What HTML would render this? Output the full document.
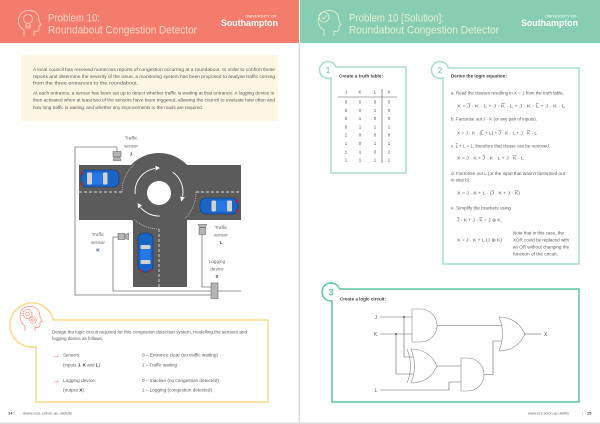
<!DOCTYPE html>
<html><head><meta charset="utf-8"><style>
html,body{margin:0;padding:0;background:#fff;}
svg{display:block;}
text{font-family:"Liberation Sans",sans-serif;}
.b{font-size:4.4px;fill:#5a5a5a;}
.l{font-size:4.6px;fill:#666;}
.t{font-size:4.5px;fill:#555;}
.bold{font-weight:bold;fill:#3a3a3a;}
.ov{text-decoration:overline;}
</style></head><body>
<svg width="600" height="424" viewBox="0 0 600 424" xmlns="http://www.w3.org/2000/svg">
<rect width="600" height="424" fill="#fff"/>
<!-- headers -->
<rect x="0" y="0" width="299" height="43" fill="#F47C6C"/>
<rect x="300" y="0" width="300" height="43" fill="#86CDB4"/>
<!-- separators -->
<rect x="298.5" y="43" width="1.5" height="381" fill="#DDDDDD"/>
<rect x="0" y="422.5" width="600" height="1.5" fill="#DDDDDD"/>

<!-- left header icon -->
<g fill="none" stroke="#FCD6C6" stroke-width="0.8">
<path d="M24,36 V30 C18,27 17,20 20,15 C23,10 30,9 35,12 C38,14 39,18 39,21 L41,25 L39,26 V29 C39,31 37,32 34,31 V36"/>
<circle cx="28" cy="19" r="4.5"/>
<path d="M26,24 V28 H30 V24 M26,26 H30"/>
</g>
<text x="48" y="21.3" font-size="10.8" fill="#FCD8C9" textLength="52" lengthAdjust="spacingAndGlyphs">Problem 10:</text>
<text x="48" y="33.5" font-size="10.8" fill="#FCD8C9" textLength="149" lengthAdjust="spacingAndGlyphs">Roundabout Congestion Detector</text>
<text x="245" y="17.5" font-size="3.6" fill="#fff" textLength="32" lengthAdjust="spacingAndGlyphs">UNIVERSITY OF</text>
<text x="221" y="26" font-size="9" font-weight="bold" fill="#fff" textLength="57" lengthAdjust="spacingAndGlyphs">Southampton</text>

<!-- right header icon -->
<g fill="none" stroke="#E4F0CC" stroke-width="0.8">
<path d="M324,36 V30 C318,27 317,20 320,15 C323,10 330,9 335,12 C338,14 339,18 339,21 L341,25 L339,26 V29 C339,31 337,32 334,31 V36"/>
<circle cx="324" cy="17" r="5"/>
<path d="M321.5,17 L323.5,19 L327,15"/>
</g>
<text x="349" y="21.3" font-size="10.8" fill="#E6F1CE" textLength="95" lengthAdjust="spacingAndGlyphs">Problem 10 [Solution]:</text>
<text x="349" y="33.5" font-size="10.8" fill="#E6F1CE" textLength="150" lengthAdjust="spacingAndGlyphs">Roundabout Congestion Detector</text>
<text x="545" y="17.5" font-size="3.6" fill="#fff" textLength="32" lengthAdjust="spacingAndGlyphs">UNIVERSITY OF</text>
<text x="521" y="26" font-size="9" font-weight="bold" fill="#fff" textLength="57" lengthAdjust="spacingAndGlyphs">Southampton</text>

<!-- LEFT: intro box -->
<rect x="21" y="55" width="257" height="66" fill="#FEF6E2"/>
<text class="b" x="33" y="71" textLength="242" lengthAdjust="spacingAndGlyphs">A local council has received numerous reports of congestion occurring at a roundabout. In order to confirm these</text>
<text class="b" x="33" y="78" textLength="242" lengthAdjust="spacingAndGlyphs">reports and determine the severity of the issue, a monitoring system has been proposed to analyse traffic coming</text>
<text class="b" x="33" y="84.5" textLength="105" lengthAdjust="spacingAndGlyphs">from the three entrances to the roundabout.</text>
<text class="b" x="33" y="94.5" textLength="241" lengthAdjust="spacingAndGlyphs">At each entrance, a sensor has been set up to detect whether traffic is waiting at that entrance. A logging device is</text>
<text class="b" x="33" y="101.5" textLength="242" lengthAdjust="spacingAndGlyphs">then activated when at least two of the sensors have been triggered, allowing the council to evaluate how often and</text>
<text class="b" x="33" y="109" textLength="170" lengthAdjust="spacingAndGlyphs">how long traffic is waiting, and whether any improvements to the roads are required.</text>

<!-- roads -->
<g fill="#5B5B5B">
<rect x="79" y="165" width="162" height="55"/>
<rect x="133" y="219" width="54" height="68"/>
<circle cx="159" cy="192" r="39"/>
</g>
<circle cx="159" cy="193" r="12" fill="#fff"/>
<g fill="none" stroke="#fff" stroke-width="0.7" stroke-dasharray="3 2">
<path d="M79,192 H122"/>
<path d="M196,192 H241"/>
<path d="M159,229 V287"/>
</g>
<g fill="none" stroke="#ddd" stroke-width="0.6" stroke-dasharray="1 1">
<path d="M122,192 A37,37 0 0 1 134.2,164.5"/>
<path d="M196,192 A37,37 0 0 1 185.2,218.2"/>
<path d="M159,229 A37,37 0 0 1 134.2,219.5"/>
</g>
<!-- arrows -->
<g fill="none" stroke="#fff" stroke-width="0.9">
<path d="M135.1,194.1 A24,24 0 0 1 154.8,168.4"/>
<path d="M172.8,172.3 A24,24 0 0 1 182.6,196.2"/>
<path d="M159.8,216 A24,24 0 0 1 140.6,207.4"/>
</g>
<g fill="#fff">
<polygon points="160,168 155.5,165.8 155.5,170.5"/>
<polygon points="181.3,201.5 184.8,197.2 180.2,196.4"/>
<polygon points="137.5,203 138.2,208.4 142,205.2"/>
</g>

<!-- cars -->
<g transform="translate(81,170)">
<rect x="0" y="0" width="38" height="17" rx="6" fill="#1A64C6" stroke="#0B3A78" stroke-width="0.6"/>
<rect x="11" y="2.5" width="11" height="12" fill="#2479E6"/>
<rect x="6" y="2.5" width="5" height="12" rx="1" fill="#D2D2D2"/>
<rect x="22" y="2.5" width="4.5" height="12" rx="1" fill="#D2D2D2"/>
<rect x="0.4" y="1.5" width="1.8" height="3" fill="#C8202A"/>
<rect x="0.4" y="12.5" width="1.8" height="3" fill="#C8202A"/>
</g>
<g transform="translate(238,198) scale(-1,1)">
<rect x="0" y="0" width="38" height="16" rx="6" fill="#1A64C6" stroke="#0B3A78" stroke-width="0.6"/>
<rect x="11" y="2.5" width="11" height="11" fill="#2479E6"/>
<rect x="6" y="2.5" width="5" height="11" rx="1" fill="#D2D2D2"/>
<rect x="22" y="2.5" width="4.5" height="11" rx="1" fill="#D2D2D2"/>
<rect x="0.4" y="1.5" width="1.8" height="3" fill="#C8202A"/>
<rect x="0.4" y="11.5" width="1.8" height="3" fill="#C8202A"/>
</g>
<g transform="translate(138,272) rotate(-90)">
<rect x="0" y="0" width="39" height="15" rx="6" fill="#1A64C6" stroke="#0B3A78" stroke-width="0.6"/>
<rect x="12" y="2.5" width="11" height="10" fill="#2479E6"/>
<rect x="8" y="2.5" width="4" height="10" rx="1" fill="#D2D2D2"/>
<rect x="23" y="2.5" width="4" height="10" rx="1" fill="#D2D2D2"/>
<rect x="0.4" y="1.3" width="1.8" height="3" fill="#C8202A"/>
<rect x="0.4" y="10.7" width="1.8" height="3" fill="#C8202A"/>
</g>

<!-- wires -->
<g fill="none" stroke="#777" stroke-width="0.8">
<path d="M117,152 V147 H75 V295 H211"/>
<path d="M118,237 H113 V291 H211"/>
<path d="M202,235 V287 H211"/>
<path d="M218,291 H241"/>
</g>
<!-- sensors -->
<g fill="#B5B5B5" stroke="#555" stroke-width="0.5">
<rect x="113" y="151.5" width="8" height="5.5"/>
<polygon points="114.5,157 119.5,157 121,160.5 113,160.5"/>
<rect x="118" y="233.5" width="7" height="6"/>
<polygon points="125,235 128.5,233 128.5,240 125,238"/>
<polygon points="198,224.5 207,224.5 205,227.5 200,227.5"/>
<rect x="199" y="227.5" width="6.5" height="7"/>
<rect x="211" y="283" width="7" height="15.5"/>
</g>
<!-- labels -->
<g class="l" text-anchor="middle">
<text x="131" y="139.5">Traffic</text><text x="131" y="147.5">sensor</text>
<text x="98" y="236">Traffic</text><text x="98" y="244">sensor</text>
<text x="221" y="229">Traffic</text><text x="221" y="236.5">sensor</text>
<text x="217" y="263">Logging</text><text x="217" y="270.5">device</text>
</g>
<g font-size="4.6" font-weight="bold" fill="#1F3D6E" text-anchor="middle">
<text x="131" y="155.5">J</text>
<text x="98" y="251.5">K</text>
<text x="221" y="244">L</text>
<text x="217" y="278">X</text>
</g>

<!-- bottom-left task box -->
<path d="M53.4,320 H268 V402 H36 V346.6 A22,22 0 1 1 53.4,320 Z" fill="#fff" stroke="#FDD98A" stroke-width="1.5"/>
<g fill="none" stroke="#F28A7A" stroke-width="0.7">
<path d="M25,331 V326 C20,323 19,316 21,311 C24,306 31,305 36,308 C39,310 40,314 40,317 L42,321 L40,322 V325 C40,327 38,328 35,327 V331"/>
<circle cx="27.5" cy="314" r="4.5" stroke-dasharray="1.2 0.8" stroke-width="1.2"/>
<circle cx="27.5" cy="314" r="1.8"/>
<circle cx="33" cy="320" r="3.3" stroke-dasharray="1 0.8" stroke-width="1.1"/>
<circle cx="33" cy="320" r="1.3"/>
</g>
<text class="b" x="52" y="333.5" textLength="195" lengthAdjust="spacingAndGlyphs">Design the logic circuit required for this congestion detection system, modelling the sensors and</text>
<text class="b" x="52" y="340" textLength="51" lengthAdjust="spacingAndGlyphs">logging device as follows:</text>
<text x="52.5" y="357.5" font-size="7" fill="#F47C6C" stroke="#F47C6C" stroke-width="0.15">→</text>
<text x="52.5" y="383" font-size="7" fill="#F47C6C" stroke="#F47C6C" stroke-width="0.15">→</text>
<text class="b" x="63" y="356.5">Sensors:</text>
<text class="b" x="63" y="366.5" textLength="37" lengthAdjust="spacingAndGlyphs">(inputs <tspan font-weight="bold" fill="#333">J</tspan>, <tspan font-weight="bold" fill="#333">K</tspan> and <tspan font-weight="bold" fill="#333">L</tspan>)</text>
<text class="b" x="142" y="356.5" textLength="76" lengthAdjust="spacingAndGlyphs">0 – Entrance clear (no traffic waiting)</text>
<text class="b" x="142" y="366.5" textLength="35" lengthAdjust="spacingAndGlyphs">1 – Traffic waiting</text>
<text class="b" x="63" y="382" textLength="33" lengthAdjust="spacingAndGlyphs">Logging device:</text>
<text class="b" x="63" y="391.5" textLength="21" lengthAdjust="spacingAndGlyphs">(output <tspan font-weight="bold" fill="#333">X</tspan>)</text>
<text class="b" x="142" y="382" textLength="77" lengthAdjust="spacingAndGlyphs">0 – Inactive (no congestion detected)</text>
<text class="b" x="142" y="391.5" textLength="70" lengthAdjust="spacingAndGlyphs">1 – Logging (congestion detected)</text>

<!-- footers -->
<text x="8" y="414.5" font-size="4" fill="#444"><tspan font-weight="bold">14</tspan>   <tspan fill="#999">|</tspan>   </text>
<text x="23" y="414.5" font-size="4" fill="#666" textLength="49" lengthAdjust="spacingAndGlyphs">www.ecs.soton.ac.uk/kits</text>
<text x="528" y="414.5" font-size="4" fill="#666" textLength="41" lengthAdjust="spacingAndGlyphs">www.ecs.soton.ac.uk/kits</text>
<text x="582" y="414.5" font-size="4" fill="#999">|</text>
<text x="587" y="414.5" font-size="4" font-weight="bold" fill="#444">25</text>

<!-- RIGHT: box 1 -->
<path d="M336,67 H406 V173 H331 V77.95 A8.5,8.5 0 1 1 336,67 Z" fill="#fff" stroke="#A8DEC9" stroke-width="1.5"/>
<text x="328" y="73.3" font-size="9" font-weight="bold" fill="#9BD8C1" text-anchor="middle">1</text>
<text class="t bold" x="339" y="77.5" textLength="44" lengthAdjust="spacingAndGlyphs">Create a truth table:</text>
<g class="t" text-anchor="middle">
<text x="346" y="93.5">J</text><text x="360" y="93.5">K</text><text x="375" y="93.5">L</text><text x="389" y="93.5">X</text>
<text x="346" y="103.5">0</text><text x="360" y="103.5">0</text><text x="375" y="103.5">0</text><text x="389" y="103.5">0</text>
<text x="346" y="111.8">0</text><text x="360" y="111.8">0</text><text x="375" y="111.8">1</text><text x="389" y="111.8">0</text>
<text x="346" y="120.1">0</text><text x="360" y="120.1">1</text><text x="375" y="120.1">0</text><text x="389" y="120.1">0</text>
<text x="346" y="128.4">0</text><text x="360" y="128.4">1</text><text x="375" y="128.4">1</text><text x="389" y="128.4">1</text>
<text x="346" y="136.7">1</text><text x="360" y="136.7">0</text><text x="375" y="136.7">0</text><text x="389" y="136.7">0</text>
<text x="346" y="145">1</text><text x="360" y="145">0</text><text x="375" y="145">1</text><text x="389" y="145">1</text>
<text x="346" y="153.3">1</text><text x="360" y="153.3">1</text><text x="375" y="153.3">0</text><text x="389" y="153.3">1</text>
<text x="346" y="161.6">1</text><text x="360" y="161.6">1</text><text x="375" y="161.6">1</text><text x="389" y="161.6">1</text>
</g>
<path d="M338,97 H397 M382,89 V163" stroke="#555" stroke-width="0.6" fill="none"/>

<!-- box 2 -->
<path d="M448.26,68 H579 V264 H443 V77.95 A8.5,8.5 0 1 1 448.26,68 Z" fill="#fff" stroke="#A8DEC9" stroke-width="1.5"/>
<text x="440" y="73.3" font-size="9" font-weight="bold" fill="#9BD8C1" text-anchor="middle">2</text>
<text class="t bold" x="451" y="77.5" textLength="56" lengthAdjust="spacingAndGlyphs">Derive the logic equation:</text>
<text class="b" x="451" y="94.5" textLength="113" lengthAdjust="spacingAndGlyphs">a. Read the clauses resulting in X = 1 from the truth table.</text>
<text class="b" x="457" y="107.5" textLength="108" lengthAdjust="spacingAndGlyphs">X = <tspan class="ov">J</tspan> · K · L  +  J · <tspan class="ov">K</tspan> · L  +  J · K · <tspan class="ov">L</tspan>  +  J · K · L</text>
<text class="b" x="451" y="120.5" textLength="86" lengthAdjust="spacingAndGlyphs">b. Factorise out J · K (or any pair of inputs).</text>
<text class="b" x="457" y="134.5" textLength="80" lengthAdjust="spacingAndGlyphs">X = J · K · (<tspan class="ov">L</tspan> + L) + <tspan class="ov">J</tspan> · K · L + J · <tspan class="ov">K</tspan> · L</text>
<text class="b" x="451" y="147.5" textLength="99" lengthAdjust="spacingAndGlyphs">c. <tspan class="ov">L</tspan> + L = 1, therefore that clause can be removed.</text>
<text class="b" x="457" y="159.5" textLength="67" lengthAdjust="spacingAndGlyphs">X = J · K + <tspan class="ov">J</tspan> · K · L + J · <tspan class="ov">K</tspan> · L</text>
<text class="b" x="451" y="175" textLength="114" lengthAdjust="spacingAndGlyphs">d. Factorise out L (or the input that wasn't factorised out</text>
<text class="b" x="451" y="181.5">in step b).</text>
<text class="b" x="457" y="194.5" textLength="63" lengthAdjust="spacingAndGlyphs">X = J · K + L · (<tspan class="ov">J</tspan> · K + J · <tspan class="ov">K</tspan>)</text>
<text class="b" x="451" y="209.5" textLength="60" lengthAdjust="spacingAndGlyphs">e. Simplify the brackets using</text>
<text class="b" x="457" y="221.5" textLength="45" lengthAdjust="spacingAndGlyphs"><tspan class="ov">J</tspan> · K + J · <tspan class="ov">K</tspan> = J ⊕ K.</text>
<text class="b" x="457" y="241.5" textLength="45" lengthAdjust="spacingAndGlyphs">X = J · K + L (J ⊕ K)</text>
<text class="b" x="513" y="234.5" textLength="51" lengthAdjust="spacingAndGlyphs">Note that in this case, the</text>
<text class="b" x="513" y="241.5" textLength="56" lengthAdjust="spacingAndGlyphs">XOR could be replaced with</text>
<text class="b" x="513" y="248.5" textLength="56" lengthAdjust="spacingAndGlyphs">an OR without changing the</text>
<text class="b" x="513" y="255.5" textLength="45" lengthAdjust="spacingAndGlyphs">function of the circuit.</text>

<!-- box 3 -->
<path d="M339.5,289 H579 V402 H332 V300.9 A9,9 0 1 1 339.5,289 Z" fill="#fff" stroke="#5DC49B" stroke-width="1.5"/>
<text x="331" y="295.3" font-size="9" font-weight="bold" fill="#5DC49B" text-anchor="middle">3</text>
<text class="t bold" x="340" y="300.5" textLength="46" lengthAdjust="spacingAndGlyphs">Create a logic circuit:</text>

<g fill="none" stroke="#666" stroke-width="0.6">
<path d="M380,317 H412"/>
<path d="M380,334 H412"/>
<path d="M404,317 V357 H414"/>
<path d="M396,334 V374 H414"/>
<path d="M437,325.5 H503"/>
<path d="M437,366 H461"/>
<path d="M380,390 H449 V382 H461"/>
<path d="M484,374.5 H493 V341 H503"/>
<path d="M525,334 H541"/>
</g>
<g fill="#fff" stroke="#888" stroke-width="0.6">
<path d="M412,309 H420.5 A16.5,16.5 0 0 1 420.5,342 H412 Z"/>
<path d="M461,358 H467.5 A16.5,16.5 0 0 1 467.5,391 H461 Z"/>
<path d="M411,349 C423,349 432,355 437,366 C432,377 423,383 411,383 Q418,366 411,349 Z"/>
<path d="M407,349 Q414,366 407,383" fill="none"/>
<path d="M499,317 C510,317 519,322 525,334 C519,346 510,351 499,351 Q506,334 499,317 Z"/>
</g>
<circle cx="404" cy="317" r="0.9" fill="#444"/>
<circle cx="396" cy="334" r="0.9" fill="#444"/>
<g font-size="5" fill="#555">
<text x="374.5" y="318.8">J</text>
<text x="374" y="335.8">K</text>
<text x="374.5" y="391.8">L</text>
<text x="544" y="335.8">X</text>
</g>
</svg>
</body></html>
